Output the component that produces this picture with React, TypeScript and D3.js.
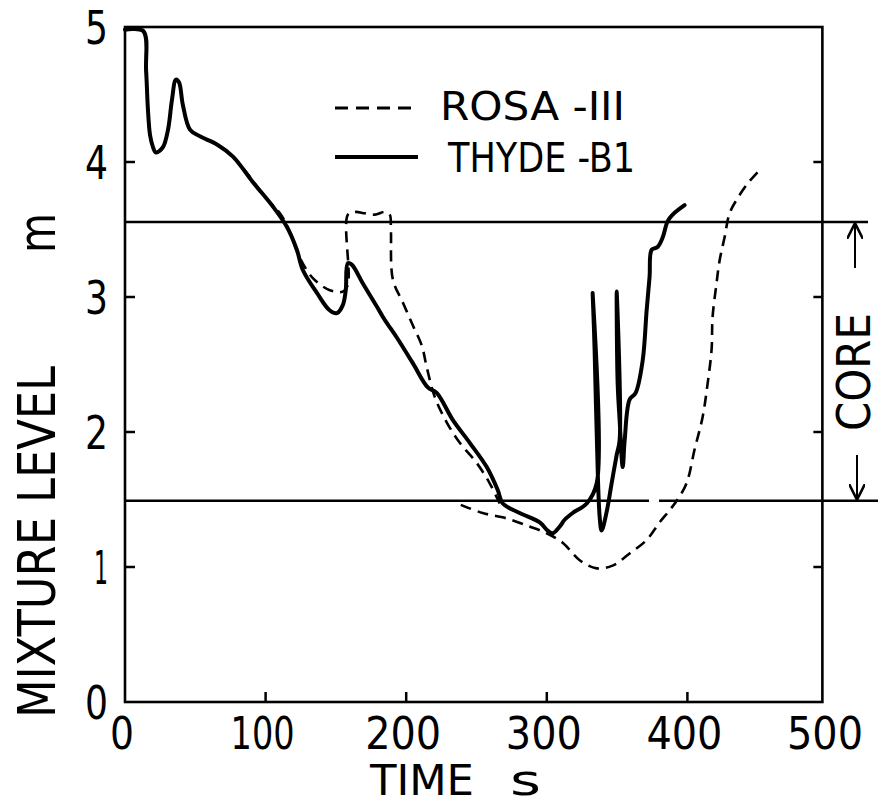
import React from "react";
import * as d3 from "d3";

// THYDE-B1 calculation (solid)
const thydeTime = [0, 13, 15, 16.3, 17.8, 19.9, 22, 27, 30.6, 33.4, 36.2, 38.4, 41.2, 46.2, 53.3, 65.4, 76.8, 91, 105.2, 115.1, 122.2, 126.5, 136.5, 145.7, 150.7, 154.9, 157, 158.5, 161.3, 169.2, 179.1, 184.8, 193.3, 204.7, 215.4, 221.7, 233.1, 245.2, 257.3, 265.1, 268.7, 280.7, 295, 300.6, 304.2, 309.2, 312.7, 318.4, 328.4, 335.5, 332.6, 334, 335.5, 337.6, 339, 342.6, 346.1, 349.7, 351.8, 349.7, 350.4, 351.8, 354, 355.4, 358.9, 363.2, 368.2, 371, 373.1, 374.6, 378.8, 382.4, 385.9, 389.5, 398];
const thydeLevel = [4.98, 4.97, 4.68, 4.39, 4.2, 4.11, 4.07, 4.11, 4.24, 4.46, 4.61, 4.59, 4.42, 4.24, 4.19, 4.13, 4.04, 3.85, 3.67, 3.52, 3.35, 3.2, 3.03, 2.9, 2.88, 2.94, 3.05, 3.25, 3.24, 3.1, 2.93, 2.83, 2.7, 2.51, 2.33, 2.29, 2.09, 1.92, 1.74, 1.57, 1.47, 1.4, 1.33, 1.27, 1.25, 1.3, 1.35, 1.4, 1.47, 1.62, 3.03, 2.61, 1.99, 1.37, 1.27, 1.41, 1.62, 1.83, 1.94, 3.04, 2.36, 2.09, 1.74, 1.94, 2.24, 2.29, 2.53, 2.9, 3.15, 3.35, 3.37, 3.44, 3.56, 3.61, 3.68];

// ROSA-III experiment (dashed), upper branch
const rosaTimeA = [0, 12.8, 14.9, 16.3, 17.8, 19.9, 22, 27, 30.6, 33.4, 36.2, 38.4, 41.2, 46.2, 53.3, 65.4, 76.8, 88.8, 99.5, 110.2, 117.3, 124.4, 133.6, 145.7, 154.9, 158.5, 158.5, 163.5, 170.6, 177.7, 184.8, 188.3, 189.1, 190.5, 197.6, 204.7, 211.1, 214.6, 220.3, 228.9, 238.1, 250.2, 259.4, 266.5];
const rosaLevelA = [4.98, 4.98, 4.68, 4.39, 4.2, 4.11, 4.07, 4.11, 4.24, 4.46, 4.61, 4.59, 4.42, 4.24, 4.19, 4.13, 4.04, 3.89, 3.74, 3.62, 3.48, 3.29, 3.14, 3.05, 3.04, 3.09, 3.61, 3.63, 3.62, 3.61, 3.63, 3.61, 3.5, 3.13, 2.96, 2.79, 2.64, 2.48, 2.26, 2.07, 1.92, 1.77, 1.62, 1.47];
// ROSA-III lower branch
const rosaTimeB = [238.8, 254.4, 271.5, 287.8, 299.9, 311.3, 323.4, 335.5, 346.8, 358.9, 371, 380.2, 387.3, 393, 399.4, 405.1, 410.8, 414.4, 417.2, 417.9, 420.7, 422.9, 426.4, 430, 435, 442.8, 451.3];
const rosaLevelB = [1.46, 1.4, 1.36, 1.3, 1.25, 1.18, 1.05, 0.99, 1.01, 1.1, 1.2, 1.33, 1.42, 1.5, 1.62, 1.87, 2.11, 2.36, 2.61, 2.85, 3.1, 3.27, 3.44, 3.62, 3.72, 3.84, 3.94];

const xTicks = [0, 100, 200, 300, 400, 500];
const yTicks = [0, 1, 2, 3, 4, 5];
const coreTop = 3.555;
const coreBottom = 1.49;

const FONT = "'Liberation Sans Narrow', 'DejaVu Sans Condensed', 'DejaVu Sans', sans-serif";

const zip = (a: number[], b: number[]): [number, number][] => a.map((t, i) => [t, b[i]]);

export default function App() {
  const W = 881, H = 804;
  const x = d3.scaleLinear().domain([0, 500]).range([125, 828]);
  const y = d3.scaleLinear().domain([0, 5]).range([702, 27]);
  // smooth pen-drawn look, centripetal so spikes don't loop
  const line = d3.line<[number, number]>().x(d => x(d[0])).y(d => y(d[1])).curve(d3.curveCatmullRom.alpha(0.5));

  const boxRight = x(496);

  return (
    <div style={{ position: "absolute", left: 0, top: 0 }}>
      <svg width={W} height={H} viewBox={`0 0 ${W} ${H}`} style={{ display: "block", background: "#fff" }}>
        <defs>
          <marker id="ah" viewBox="0 0 10 10" refX="10" refY="5" markerWidth="16" markerHeight="16" markerUnits="userSpaceOnUse" orient="auto">
            <path d="M0,0 L10,5 L0,10" fill="none" stroke="#000" strokeWidth="1.6" />
          </marker>
        </defs>
        {/* frame */}
        <rect x={x(0)} y={y(5)} width={boxRight - x(0)} height={y(0) - y(5)} fill="none" stroke="#000" strokeWidth={2.6} />

        {/* ticks */}
        {xTicks.slice(1, -1).map(t => (
          <line key={"xt" + t} x1={x(t)} x2={x(t)} y1={y(0)} y2={y(0) - 10} stroke="#000" strokeWidth={2.5} />
        ))}
        {yTicks.slice(1, -1).map(v => (
          <g key={"yt" + v}>
            <line x1={x(0)} x2={x(0) + 10} y1={y(v)} y2={y(v)} stroke="#000" strokeWidth={2.5} />
            <line x1={boxRight} x2={boxRight - 9} y1={y(v)} y2={y(v)} stroke="#000" strokeWidth={2.5} />
          </g>
        ))}

        {/* tick labels */}
        {xTicks.map(t => (
          <text key={"xl" + t} x={x(t) - 3} y={749} textAnchor="middle" fontFamily={FONT} fontSize={44}
            textLength={t === 0 ? 24 : t === 100 ? 64 : 76} lengthAdjust="spacingAndGlyphs">{t}</text>
        ))}
        {yTicks.map(v => (
          <text key={"yl" + v} x={108} y={y(v) + 17} textAnchor="end" fontFamily={FONT} fontSize={47}
            textLength={v === 1 ? 14 : 23} lengthAdjust="spacingAndGlyphs">{v}</text>
        ))}

        {/* axis titles */}
        <text x={370} y={795} fontFamily={FONT} fontSize={42} textLength={104} lengthAdjust="spacingAndGlyphs">TIME</text>
        <text x={510} y={795} fontFamily={FONT} fontSize={42} textLength={31} lengthAdjust="spacingAndGlyphs">s</text>
        <text transform="translate(55,718) rotate(-90)" fontFamily={FONT} fontSize={52} textLength={352} lengthAdjust="spacingAndGlyphs">MIXTURE LEVEL</text>
        <text transform="translate(55,253) rotate(-90)" fontFamily={FONT} fontSize={52} textLength={40} lengthAdjust="spacingAndGlyphs">m</text>

        {/* core limits */}
        <line x1={x(0)} x2={868} y1={y(coreTop)} y2={y(coreTop)} stroke="#000" strokeWidth={2.5} />
        <line x1={x(0)} x2={649} y1={y(coreBottom)} y2={y(coreBottom)} stroke="#000" strokeWidth={2.5} />
        <line x1={659} x2={878} y1={y(coreBottom)} y2={y(coreBottom)} stroke="#000" strokeWidth={2.5} />
        <line x1={855} x2={855} y1={268} y2={y(coreTop) + 1} stroke="#000" strokeWidth={2} markerEnd="url(#ah)" />
        <line x1={857} x2={857} y1={455} y2={y(coreBottom) - 1} stroke="#000" strokeWidth={2} markerEnd="url(#ah)" />
        <text transform="translate(870,431) rotate(-90)" fontFamily={FONT} fontSize={46} textLength={118} lengthAdjust="spacingAndGlyphs">CORE</text>

        {/* curves */}
        <path d={line(zip(rosaTimeA, rosaLevelA)) ?? ""} fill="none" stroke="#000" strokeWidth={2.6} strokeDasharray="11 7" />
        <path d={line(zip(rosaTimeB, rosaLevelB)) ?? ""} fill="none" stroke="#000" strokeWidth={2.6} strokeDasharray="11 7" />
        <path d={line(zip(thydeTime, thydeLevel)) ?? ""} fill="none" stroke="#000" strokeWidth={4} strokeLinejoin="round" strokeLinecap="round" />

        {/* legend */}
        <line x1={335} x2={418} y1={108} y2={108} stroke="#000" strokeWidth={2.8} strokeDasharray="13 8" />
        <text x={440} y={120} fontFamily={FONT} fontSize={39} textLength={185} lengthAdjust="spacingAndGlyphs">ROSA -III</text>
        <line x1={335} x2={418} y1={157} y2={157} stroke="#000" strokeWidth={4} />
        <text x={448} y={172} fontFamily={FONT} fontSize={41} textLength={187} lengthAdjust="spacingAndGlyphs">THYDE -B1</text>
      </svg>
    </div>
  );
}
